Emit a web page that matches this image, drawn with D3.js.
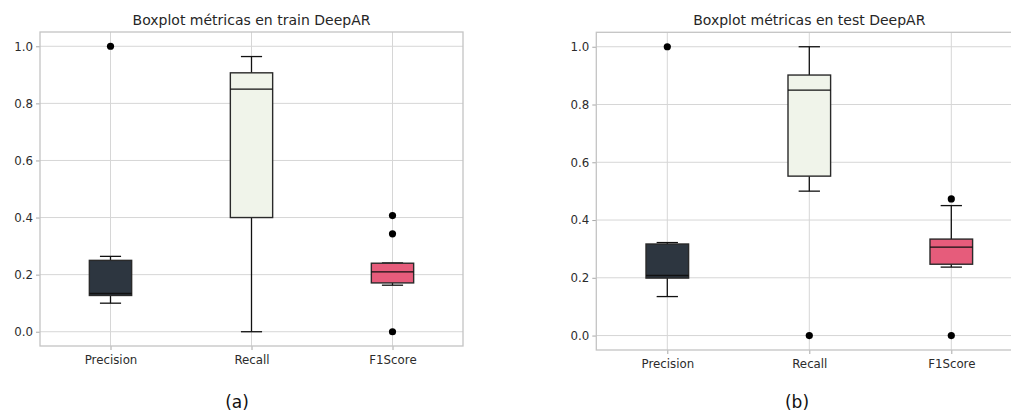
<!DOCTYPE html>
<html>
<head>
<meta charset="utf-8">
<script src="https://cdn.jsdelivr.net/npm/d3@7"></script>
<style>
  html, body { margin: 0; padding: 0; background: #fff; }
  svg { display: block; }
  text { font-family: "DejaVu Sans", sans-serif; }
</style>
</head>
<body>
<svg id="chart" width="1011" height="412"></svg>
<script>
// Metric names along the x axis
const categories = ["Precision", "Recall", "F1Score"];
const boxColors = ["#2d3640", "#f0f4ea", "#e65c7b"];
const yTicks = [0.0, 0.2, 0.4, 0.6, 0.8, 1.0];

// Box statistics per metric: [lower whisker, Q1, median, Q3, upper whisker]
const trainStats = [
  [0.100, 0.127, 0.134, 0.250, 0.264],
  [0.000, 0.400, 0.850, 0.907, 0.964],
  [0.163, 0.171, 0.210, 0.240, 0.241]
];
const trainOutliers = [[1.0], [], [0.407, 0.343, 0.0]];

const testStats = [
  [0.135, 0.199, 0.208, 0.317, 0.322],
  [0.500, 0.552, 0.850, 0.902, 1.000],
  [0.237, 0.247, 0.306, 0.334, 0.450]
];
const testOutliers = [[1.0], [0.0], [0.473, 0.0]];

const svg = d3.select("#chart");

function drawPanel(cfg) {
  const g = svg.append("g");
  const x = d3.scaleLinear().domain([0.5, 3.5]).range([cfg.left, cfg.left + cfg.width]);
  const y = d3.scaleLinear().domain([-0.05, 1.05]).range([cfg.top + cfg.height, cfg.top]);
  const pos = categories.map((c, i) => i + 1);

  // grid lines
  g.append("g").selectAll("line.hgrid").data(yTicks).join("line")
    .attr("x1", cfg.left).attr("x2", cfg.left + cfg.width)
    .attr("y1", d => y(d)).attr("y2", d => y(d))
    .attr("stroke", "#d6d6d6").attr("stroke-width", 1);
  g.append("g").selectAll("line.vgrid").data(pos).join("line")
    .attr("x1", d => x(d)).attr("x2", d => x(d))
    .attr("y1", cfg.top).attr("y2", cfg.top + cfg.height)
    .attr("stroke", "#d6d6d6").attr("stroke-width", 1);

  // axes
  const yAxis = d3.axisLeft(y).tickValues(yTicks).tickFormat(d3.format(".1f")).tickSize(4).tickPadding(3);
  const ya = g.append("g").attr("transform", `translate(${cfg.left},0)`).call(yAxis);
  const xAxis = d3.axisBottom(x).tickValues(pos).tickFormat((d, i) => categories[i]).tickSize(4).tickPadding(6);
  const xa = g.append("g").attr("transform", `translate(0,${cfg.top + cfg.height})`).call(xAxis);
  [ya, xa].forEach(a => {
    a.select(".domain").remove();
    a.selectAll(".tick line").attr("stroke", "#a8a8a8");
    a.selectAll(".tick text").attr("fill", "#2b2b2b").style("font-size", "11.8px")
      .style("font-family", "DejaVu Sans, sans-serif");
  });

  // frame
  g.append("rect")
    .attr("x", cfg.left).attr("y", cfg.top)
    .attr("width", cfg.width).attr("height", cfg.height)
    .attr("fill", "none").attr("stroke", "#c4c4c4").attr("stroke-width", 1.3);

  const boxHalf = (x(1.15) - x(1));
  const capHalf = (x(1.075) - x(1));

  const boxes = g.append("g").selectAll("g").data(cfg.stats).join("g");
  // whiskers
  boxes.append("line")
    .attr("x1", (d, i) => x(i + 1)).attr("x2", (d, i) => x(i + 1))
    .attr("y1", d => y(d[0])).attr("y2", d => y(d[1]))
    .attr("stroke", "#111").attr("stroke-width", 1.3);
  boxes.append("line")
    .attr("x1", (d, i) => x(i + 1)).attr("x2", (d, i) => x(i + 1))
    .attr("y1", d => y(d[3])).attr("y2", d => y(d[4]))
    .attr("stroke", "#111").attr("stroke-width", 1.3);
  // caps
  [0, 4].forEach(k => {
    boxes.append("line")
      .attr("x1", (d, i) => x(i + 1) - capHalf).attr("x2", (d, i) => x(i + 1) + capHalf)
      .attr("y1", d => y(d[k])).attr("y2", d => y(d[k]))
      .attr("stroke", "#111").attr("stroke-width", 1.3);
  });
  // boxes
  boxes.append("rect")
    .attr("x", (d, i) => x(i + 1) - boxHalf)
    .attr("width", boxHalf * 2)
    .attr("y", d => y(d[3]))
    .attr("height", d => y(d[1]) - y(d[3]))
    .attr("fill", (d, i) => boxColors[i])
    .attr("stroke", "#2a2a2a").attr("stroke-width", 1.4);
  // medians
  boxes.append("line")
    .attr("x1", (d, i) => x(i + 1) - boxHalf).attr("x2", (d, i) => x(i + 1) + boxHalf)
    .attr("y1", d => y(d[2])).attr("y2", d => y(d[2]))
    .attr("stroke", "#111").attr("stroke-width", 1.3);

  // outliers
  const pts = [];
  cfg.outliers.forEach((arr, i) => arr.forEach(v => pts.push({ i, v })));
  g.append("g").selectAll("circle").data(pts).join("circle")
    .attr("cx", d => x(d.i + 1)).attr("cy", d => y(d.v))
    .attr("r", 3.6).attr("fill", "#000");

  // title
  g.append("text")
    .attr("x", cfg.left + cfg.width / 2).attr("y", cfg.top - 7)
    .attr("text-anchor", "middle").attr("fill", "#262626")
    .style("font-size", "14px").text(cfg.title);

  // caption
  g.append("text")
    .attr("x", cfg.captionX).attr("y", 408)
    .attr("text-anchor", "middle").attr("fill", "#111")
    .style("font-size", "17px").text(cfg.caption);
}

drawPanel({
  left: 40, top: 32, width: 423, height: 314,
  stats: trainStats, outliers: trainOutliers,
  title: "Boxplot métricas en train DeepAR", caption: "(a)", captionX: 237
});
drawPanel({
  left: 596.3, top: 32.3, width: 426, height: 317.7,
  stats: testStats, outliers: testOutliers,
  title: "Boxplot métricas en test DeepAR", caption: "(b)", captionX: 797
});
</script>
</body>
</html>
